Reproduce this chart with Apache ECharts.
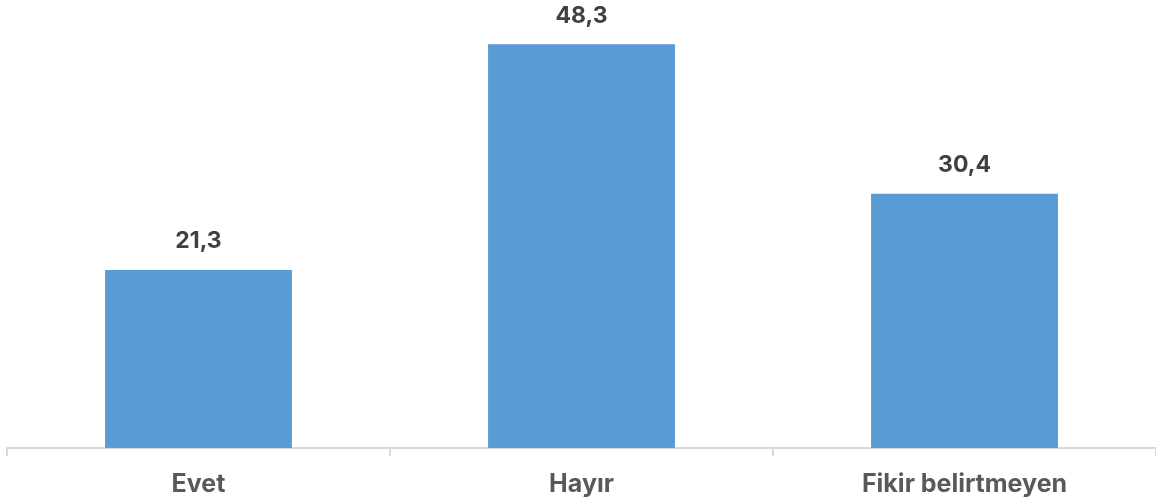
<!DOCTYPE html>
<html>
<head>
<meta charset="utf-8">
<script src="https://cdn.jsdelivr.net/npm/echarts@6/dist/echarts.min.js"></script>
<style>
  html, body { margin: 0; padding: 0; background: #fff; }
  #chart { width: 1156px; height: 504px; }
</style>
</head>
<body>
<div id="chart"></div>
<script>
const categories = ["Evet", "Hayır", "Fikir belirtmeyen"];
const values = [21.3, 48.3, 30.4];

const chart = echarts.init(document.getElementById("chart"));
chart.setOption({
  animation: false,
  grid: { left: 7, right: 0, top: 30, bottom: 56 },
  xAxis: {
    type: "category",
    data: categories,
    axisLine: { lineStyle: { color: "#d9d9d9", width: 2 } },
    axisTick: { show: true, length: 8, lineStyle: { color: "#d9d9d9", width: 2 } },
    axisLabel: {
      color: "#595959",
      fontFamily: "Inter, 'Open Sans', sans-serif",
      fontWeight: "bold",
      fontSize: 25,
      margin: 24
    }
  },
  yAxis: {
    type: "value",
    min: 0,
    max: 50,
    show: false,
    splitLine: { show: false }
  },
  series: [{
    type: "bar",
    data: values,
    barWidth: "48.8%",
    itemStyle: { color: "#5b9bd5" },
    label: {
      show: true,
      position: "top",
      distance: 17,
      color: "#404040",
      fontFamily: "Inter, 'Open Sans', sans-serif",
      fontWeight: "bold",
      fontSize: 23,
      formatter: (p) => String(p.value).replace(".", ",")
    }
  }]
});
</script>
</body>
</html>
